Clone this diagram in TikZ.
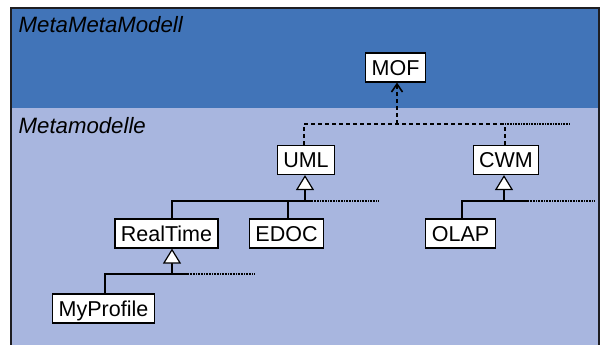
\documentclass[tikz,border=0pt]{standalone}
\usepackage{fontspec}
\setmainfont{Liberation Sans}
\usetikzlibrary{arrows.meta}
\definecolor{bandtop}{HTML}{4174B8}
\definecolor{bandlow}{HTML}{A8B6DF}
\definecolor{framecol}{HTML}{1E1E22}
\tikzset{
  cls/.style={draw=black, fill=white, line width=1.2pt, inner xsep=6pt, inner ysep=0pt,
    minimum height=29pt, text height=15.4pt, text depth=0pt,
    font=\fontsize{21.5}{24}\selectfont},
  layertitle/.style={anchor=base west, inner sep=0pt, font=\fontsize{22.2}{24}\selectfont\itshape},
  dep/.style={line width=1.8pt, dash pattern=on 4pt off 3pt},
  deptail/.style={line width=1.8pt, dash pattern=on 1pt off 0.6pt},
  gen/.style={line width=1.5pt},
  gentail/.style={line width=1.8pt, dash pattern=on 1pt off 0.6pt},
  genhead/.style={-{Triangle[length=15pt,width=18pt,fill=white,line width=1.2pt]}},
  dephead/.style={-{Straight Barb[length=8pt,width=11pt,line width=1.6pt]}}
}
\begin{document}
\begin{tikzpicture}[x=1pt,y=-1pt]
\useasboundingbox (0,0) rectangle (606,345);
\fill[white] (0,0) rectangle (606,345);
% layer bands
\fill[bandtop] (11,8.5) rectangle (599,108);
\fill[bandlow] (11,108) rectangle (599,345);
\begin{scope}
\clip (0,0) rectangle (606,345);
\draw[framecol, line width=2pt] (11,360) -- (11,8.5) -- (599,8.5) -- (599,360);
\end{scope}
\node[layertitle] (tmeta) at (18.5,33) {MetaMetaModell};
\node[layertitle] (tmodels) at (18.5,133) {Metamodelle};

% classes
\node[cls] (mof) at (395.5,67.5) {MOF};
\node[cls] (uml) at (306,160) {UML};
\node[cls] (cwm) at (506,160) {CWM};
\node[cls] (rt) at (166.5,233.5) {RealTime};
\node[cls] (edoc) at (286.5,233.5) {EDOC};
\node[cls] (olap) at (460.5,233.5) {OLAP};
\node[cls] (myp) at (103.5,308.5) {MyProfile};

% junction points
\coordinate (dmof) at (397,124);
\coordinate (duml) at (304,124);
\coordinate (dcwm) at (505,124);
\coordinate (dend) at (570,124);

\coordinate (guml) at (305,201);
\coordinate (gumlL) at (172,201);
\coordinate (gumlM) at (312,201);
\coordinate (gumlE) at (378,201);
\coordinate (gedoc) at (288,201);

\coordinate (grt) at (172,274);
\coordinate (grtL) at (105,274);
\coordinate (grtM) at (188,274);
\coordinate (grtE) at (254,274);

\coordinate (gcwm) at (504,201);
\coordinate (gcwmL) at (462,201);
\coordinate (gcwmM) at (528,201);
\coordinate (gcwmE) at (595,201);

% dependencies on MOF
\draw[dep] (duml |- uml.north) -- (duml) -- (dcwm);
\draw[dep] (dcwm |- cwm.north) -- (dcwm);
\draw[deptail] (dcwm) -- (dend);
\draw[dep, dephead] (dmof) -- (dmof |- mof.south);

% generalisations to UML
\draw[gen] (gumlL |- rt.north) -- (gumlL) -- (gumlM);
\draw[gen] (gedoc |- edoc.north) -- (gedoc);
\draw[gentail] (gumlM) -- (gumlE);
\draw[gen, genhead] (guml) -- (guml |- uml.south);

% generalisation to RealTime
\draw[gen] (grtL |- myp.north) -- (grtL) -- (grtM);
\draw[gentail] (grtM) -- (grtE);
\draw[gen, genhead] (grt) -- (grt |- rt.south);

% generalisation to CWM
\draw[gen] (gcwmL |- olap.north) -- (gcwmL) -- (gcwmM);
\draw[gentail] (gcwmM) -- (gcwmE);
\draw[gen, genhead] (gcwm) -- (gcwm |- cwm.south);
\end{tikzpicture}
\end{document}
